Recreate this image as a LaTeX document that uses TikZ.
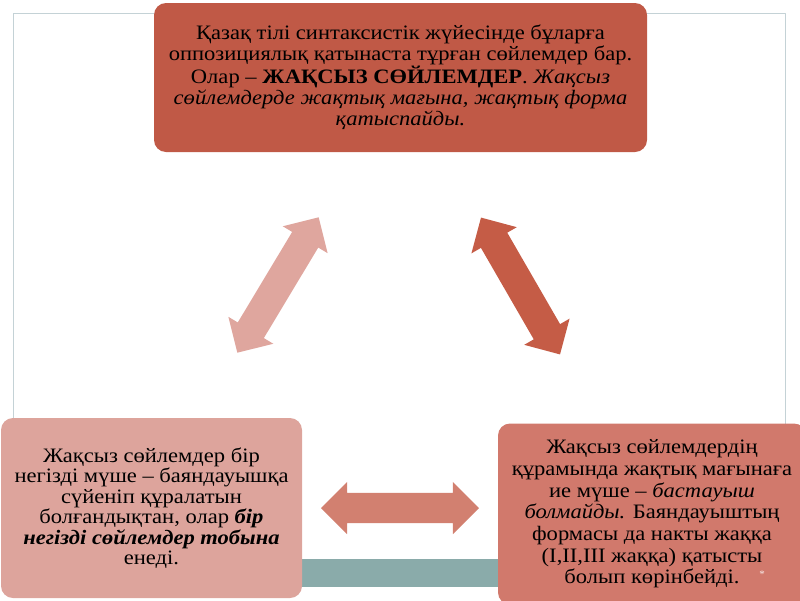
\documentclass[tikz,border=0pt]{standalone}
\usepackage{fontspec}
\setmainfont[FakeStretch=1.1]{Liberation Serif}
\usetikzlibrary{shapes.arrows}
\definecolor{topfill}{RGB}{192,89,70}
\definecolor{leftfill}{RGB}{221,164,156}
\definecolor{rightfill}{RGB}{209,121,108}
\definecolor{arrowL}{RGB}{223,166,158}
\definecolor{arrowR}{RGB}{197,92,70}
\definecolor{arrowB}{RGB}{210,128,112}
\definecolor{barfill}{RGB}{138,171,170}
\definecolor{framecol}{RGB}{196,210,214}
\begin{document}
\begin{tikzpicture}[x=1pt,y=-1pt,line join=round,font=\fontsize{20.5}{21}\selectfont,
    box/.style={rounded corners=12pt,inner sep=0pt,align=center,text=black},
    dblarrow/.style={double arrow,double arrow head extend=11pt,inner xsep=0pt,
        inner ysep=15pt,minimum height=158pt}]
    \useasboundingbox (0,0) rectangle (800,600);
    \draw[framecol,line width=1pt] (13.5,13.5) rectangle (785,573);
    \fill[barfill] (290,559) rectangle (510,587);
    \node[box,fill=topfill,minimum width=493pt,minimum height=149pt] (top) at (400.5,77.5)
        {Қазақ тілі синтаксистік жүйесінде бұларға\\
        оппозициялық қатынаста тұрған сөйлемдер бар.\\
        Олар – \textbf{ЖАҚСЫЗ СӨЙЛЕМДЕР}. \textit{Жақсыз}\\
        \textit{сөйлемдерде жақтық мағына, жақтық форма}\\
        \textit{қатыспайды.}};
    \node[box,fill=leftfill,minimum width=301pt,minimum height=180pt,
        font=\fontsize{20.5}{20.5}\selectfont] (left) at (151.5,508)
        {Жақсыз сөйлемдер бір\\
        негізді мүше – баяндауышқа\\
        сүйеніп құралатын\\
        болғандықтан, олар \textbf{\textit{бір}}\\
        \textbf{\textit{негізді сөйлемдер тобына}}\\
        енеді.};
    \node[box,fill=rightfill,minimum width=308pt,minimum height=181pt,
        font=\fontsize{20.5}{21.7}\selectfont] (right) at (652,514)
        {Жақсыз сөйлемдердің\\
        құрамында жақтық мағынаға\\
        ие мүше – \textit{бастауыш}\\
        \textit{болмайды.} Баяндауыштың\\
        формасы да накты жаққа\\
        (І,ІІ,ІІІ жаққа) қатысты\\
        болып көрінбейді.};
    \node[dblarrow,fill=arrowL,rotate=59] (arrL) at (278,285) {};
    \node[dblarrow,fill=arrowR,rotate=-60] (arrR) at (520.5,286) {};
    \node[dblarrow,fill=arrowB] (arrB) at (400,508) {};
    \node[text=white!85!rightfill,font=\normalsize] (star) at (762,574) {*};
\end{tikzpicture}
\end{document}
